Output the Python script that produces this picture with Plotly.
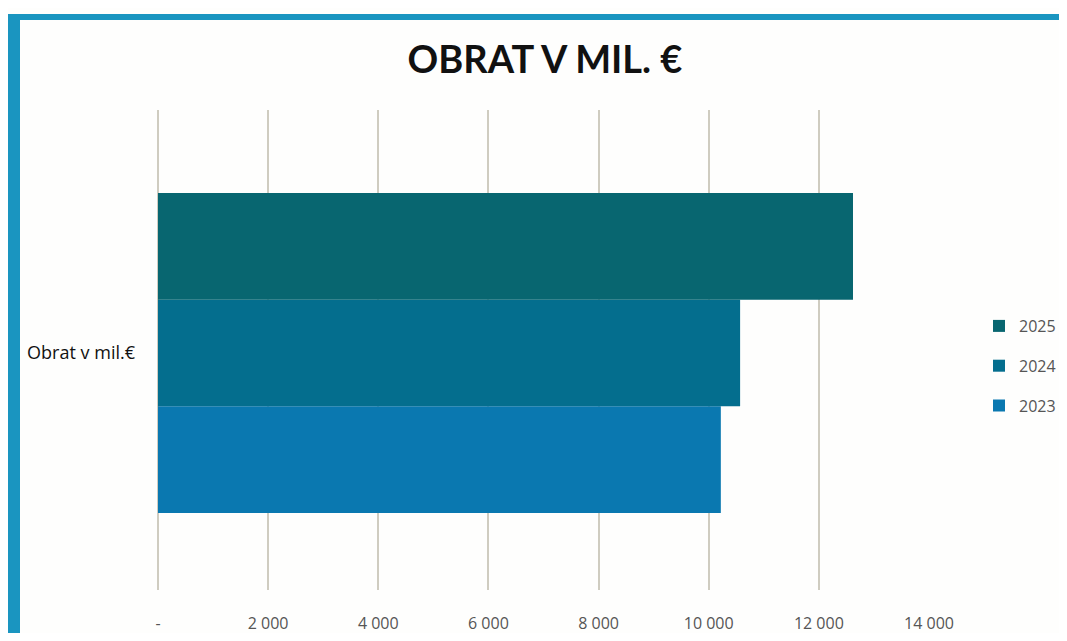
import plotly.graph_objects as go

category = ["Obrat v mil.€"]
years = ["2023", "2024", "2025"]
values = {"2023": [10220], "2024": [10570], "2025": [12620]}
colors = {"2023": "#0a78b0", "2024": "#046e8e", "2025": "#086670"}
legend_rank = {"2025": 1, "2024": 2, "2023": 3}
tick_vals = [0, 2000, 4000, 6000, 8000, 10000, 12000, 14000]
tick_text = ["-", "2 000", "4 000", "6 000", "8 000", "10 000", "12 000", "14 000"]

# browser body margin offsets the figure by 8px; keep the page within the window
OFF = 8
W, H = 1067 - 2 * OFF, 641 - 2 * OFF
L, R, T, B = 158 - OFF, (1067 - OFF) - 929, 110 - OFF, (641 - OFF) - 590
pw, ph = W - L - R, H - T - B

def px(x):
    return (x - OFF - L) / pw

def py(y):
    return 1 - (y - OFF - T) / ph

fig = go.Figure()
for yr in years:
    fig.add_trace(go.Bar(
        y=category, x=values[yr], name=yr, orientation="h",
        marker=dict(color=colors[yr], line=dict(width=0)),
        legendrank=legend_rank[yr], legendgroup=yr,
    ))

grid_col = "#cfccc0"
shift = 3 / ph
fig.update_layout(
    template="none",
    width=W, height=H, autosize=False,
    margin=dict(l=L, r=R, t=T, b=B, pad=0),
    paper_bgcolor="#fefefd", plot_bgcolor="#fefefd",
    barmode="group", bargap=0.333, bargroupgap=0,
    font=dict(family="Open Sans, Lato, sans-serif", color="#555"),
    title=dict(text="<b>OBRAT V MIL. €</b>", x=(545 - OFF) / W, xref="container", xanchor="center",
               y=1 - (60 - OFF) / H, yref="container", yanchor="middle",
               font=dict(size=38, color="#111", family="Lato, sans-serif")),
    legend=dict(x=(979 - OFF) / W, y=1 - (309 - OFF) / H, xref="container", yref="container",
                xanchor="left", yanchor="top",
                traceorder="grouped", tracegroupgap=16,
                font=dict(size=16, color="#555"), bgcolor="rgba(0,0,0,0)",
                itemwidth=30),
    xaxis=dict(range=[0, 14000], tickvals=tick_vals, ticktext=tick_text,
               showgrid=True, gridcolor=grid_col, gridwidth=2,
               zeroline=True, zerolinecolor=grid_col, zerolinewidth=2,
               showline=False, ticks="", ticklabelstandoff=22, automargin=False,
               tickfont=dict(size=16, color="#555")),
    yaxis=dict(range=[-0.5 + shift, 0.5 + shift],
               showgrid=False, zeroline=False, showline=False, ticks="",
               ticklabelstandoff=22, automargin=False,
               tickfont=dict(size=18, color="#111")),
    shapes=[
        dict(type="rect", xref="paper", yref="paper", x0=px(8), x1=px(20),
             y0=py(650), y1=py(14), fillcolor="#1a95c0", line=dict(width=0), layer="above"),
        dict(type="rect", xref="paper", yref="paper", x0=px(8), x1=px(1075),
             y0=py(20), y1=py(14), fillcolor="#1a95c0", line=dict(width=0), layer="above"),
    ],
)

fig.write_html("out.html")
